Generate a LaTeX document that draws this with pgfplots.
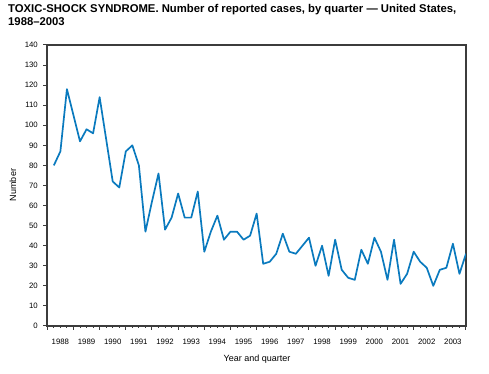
\documentclass[border=0pt]{standalone}
\usepackage{fontspec}
\setmainfont{Liberation Sans}
\usepackage{pgfplots}
\pgfplotsset{compat=1.18}
\definecolor{line}{RGB}{10,122,190}
\definecolor{ax}{RGB}{60,60,60}
\begin{document}
\begin{tikzpicture}[x=1pt,y=1pt]
\useasboundingbox (0,0) rectangle (489,374);
\node[anchor=north west, align=left, font=\fontsize{11.3}{13}\selectfont\bfseries, inner sep=0] at (8,370) {TOXIC-SHOCK SYNDROME. Number of reported cases, by quarter --- United States,\\1988--2003};
\node[rotate=90, font=\fontsize{9}{10}\selectfont, inner sep=0] at (13,189) {Number};
\node[font=\fontsize{9}{10}\selectfont, inner sep=0] at (257,15) {Year and quarter};
\begin{axis}[
  at={(47.3pt,48pt)}, anchor=south west, scale only axis,
  width=418.7pt, height=281pt,
  xmin=0, xmax=64, ymin=0, ymax=140,
  ytick={0,10,...,140},
  xtick={0,4,...,64}, xticklabels={},
  minor xtick={1,...,63},
  extra x ticks={2,6,...,62},
  extra x tick labels={1988,1989,1990,1991,1992,1993,1994,1995,1996,1997,1998,1999,2000,2001,2002,2003},
  extra x tick style={major tick length=0pt, tick label style={yshift=-10pt}},
  xtick pos=bottom, ytick pos=left,
  tick align=outside,
  major tick length=4pt, minor tick length=2pt,
  tick style={ax, line width=1pt},
  axis line style={ax, line width=1.6pt},
  tick label style={font=\fontsize{7.8}{9}\selectfont, text=black},
  yticklabel style={xshift=-2pt},
  /pgf/number format/assume math mode=true,
]
\addplot[line, line width=1.7pt, line join=round] coordinates {
(1,80)(2,87)(3,118)(4,105)(5,92)(6,98)(7,96)(8,114)
(9,93)(10,72)(11,69)(12,87)(13,90)(14,80)(15,47)(16,62)
(17,76)(18,48)(19,54)(20,66)(21,54)(22,54)(23,67)(24,37)
(25,47)(26,55)(27,43)(28,47)(29,47)(30,43)(31,45)(32,56)
(33,31)(34,32)(35,36)(36,46)(37,37)(38,36)(39,40)(40,44)
(41,30)(42,40)(43,25)(44,43)(45,28)(46,24)(47,23)(48,38)
(49,31)(50,44)(51,37)(52,23)(53,43)(54,21)(55,26)(56,37)
(57,32)(58,29)(59,20)(60,28)(61,29)(62,41)(63,26)(64,36)
};
\end{axis}
\end{tikzpicture}
\end{document}
